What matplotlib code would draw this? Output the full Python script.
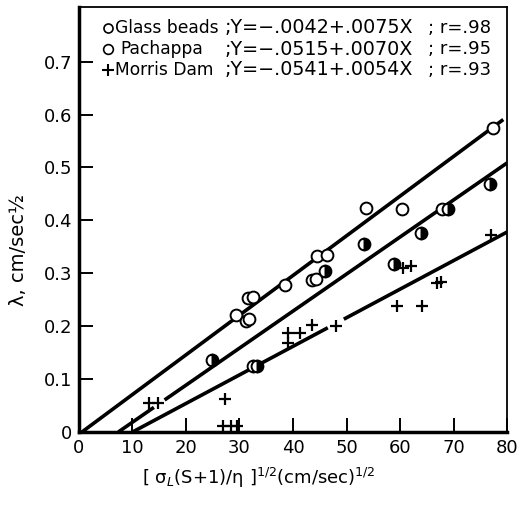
import matplotlib.pyplot as plt
import numpy as np

# glass beads (open circles)
glass_x = [29.3, 31.2, 31.8, 31.6, 32.6, 38.5, 43.5, 44.3, 44.4, 46.4, 53.7, 60.3, 67.9, 77.3]
glass_y = [0.221, 0.210, 0.213, 0.253, 0.256, 0.278, 0.287, 0.289, 0.333, 0.335, 0.424, 0.422, 0.422, 0.574]

# pachappa (half filled)
pach_x = [24.8, 32.5, 33.3, 46.0, 53.3, 58.8, 63.9, 69.0, 76.9]
pach_y = [0.137, 0.124, 0.124, 0.305, 0.355, 0.318, 0.377, 0.421, 0.468]

# morris dam (crosses)
morris_x = [13.0, 14.8, 27.3, 27.0, 28.5, 29.5, 39.1, 39.1, 41.3, 43.6, 48.0, 59.4, 64.2, 60.6, 62.0, 66.9, 67.6, 77.0]
morris_y = [0.055, 0.055, 0.062, 0.012, 0.012, 0.012, 0.187, 0.168, 0.187, 0.203, 0.200, 0.238, 0.238, 0.310, 0.313, 0.282, 0.284, 0.372]

# regression lines Y = a + b X
names = ['Glass beads', 'Pachappa', 'Morris Dam']
intercepts = [-0.0042, -0.0515, -0.0541]
slopes = [0.0075, 0.0070, 0.0054]
r_values = ['.98', '.95', '.93']
# x pieces the printed lines are drawn over (gaps where the pen was lifted)
segments = [[(0.56, 79.3)], [(7.36, 14.0), (16.0, 80.0)], [(10.02, 46.5), (49.5, 80.0)]]

fs = 13
fig = plt.figure(figsize=(5.22, 5.05), dpi=100)
ax = fig.add_axes([0.1513, 0.1446, 0.820, 0.8416])

for a, b, segs in zip(intercepts, slopes, segments):
    for x0, x1 in segs:
        xx = np.array([x0, x1])
        ax.plot(xx, a + b * xx, color='black', lw=2.6, solid_capstyle='butt', zorder=2)

ax.plot(glass_x, glass_y, 'o', ms=8.5, mfc='white', mec='black', mew=1.4, zorder=3)
ax.plot(pach_x, pach_y, 'o', ms=8.5, fillstyle='right', mfc='black', mfcalt='white',
        mec='black', mew=1.4, zorder=3)
ax.plot(morris_x, morris_y, '+', ms=8, mec='black', mew=1.6, zorder=3)

ax.set_xlim(0, 80)
ax.set_ylim(0, 0.8034)
ax.set_xticks(range(0, 81, 10))
ax.set_yticks([0, 0.1, 0.2, 0.3, 0.4, 0.5, 0.6, 0.7])
ax.set_yticklabels(['0', '0.1', '0.2', '0.3', '0.4', '0.5', '0.6', '0.7'])
ax.tick_params(direction='in', length=10, width=1.4, labelsize=fs, pad=5)
for s in ['left', 'bottom']:
    ax.spines[s].set_linewidth(2.5)
for s in ['top', 'right']:
    ax.spines[s].set_linewidth(1.3)

ax.set_xlabel(r'[ σ$_L$(S+1)/η ]$^{1/2}$(cm/sec)$^{1/2}$', fontsize=fs)
ax.xaxis.set_label_coords(0.42, -0.08)
ax.set_ylabel('λ, cm/sec½', fontsize=14)
ax.yaxis.set_label_coords(-0.142, 0.428)
ax.yaxis.label.set_verticalalignment('center')

# key written inside the frame
rows = [0.951, 0.901, 0.852]
name_x = [0.084, 0.096, 0.084]
keys = [dict(marker='o', ms=6.5, mfc='white', mec='black', mew=1.2),
        dict(marker='o', ms=7, mfc='white', mec='black', mew=1.2),
        dict(marker='+', ms=9, mec='black', mew=1.5)]
for i in range(3):
    ax.plot([0.068], [rows[i]], transform=ax.transAxes, ls='none', clip_on=False, **keys[i])
    ax.text(name_x[i], rows[i], names[i], transform=ax.transAxes, fontsize=12.3, va='center')
    eq = ';Y=\u2212%s+%sX' % (('%.4f' % -intercepts[i])[1:], ('%.4f' % slopes[i])[1:])
    ax.text(0.339, rows[i], eq, transform=ax.transAxes, fontsize=13.8, va='center')
    ax.text(0.815, rows[i], '; r=' + r_values[i], transform=ax.transAxes, fontsize=fs, va='center')

fig.savefig('out.png', dpi=100)
